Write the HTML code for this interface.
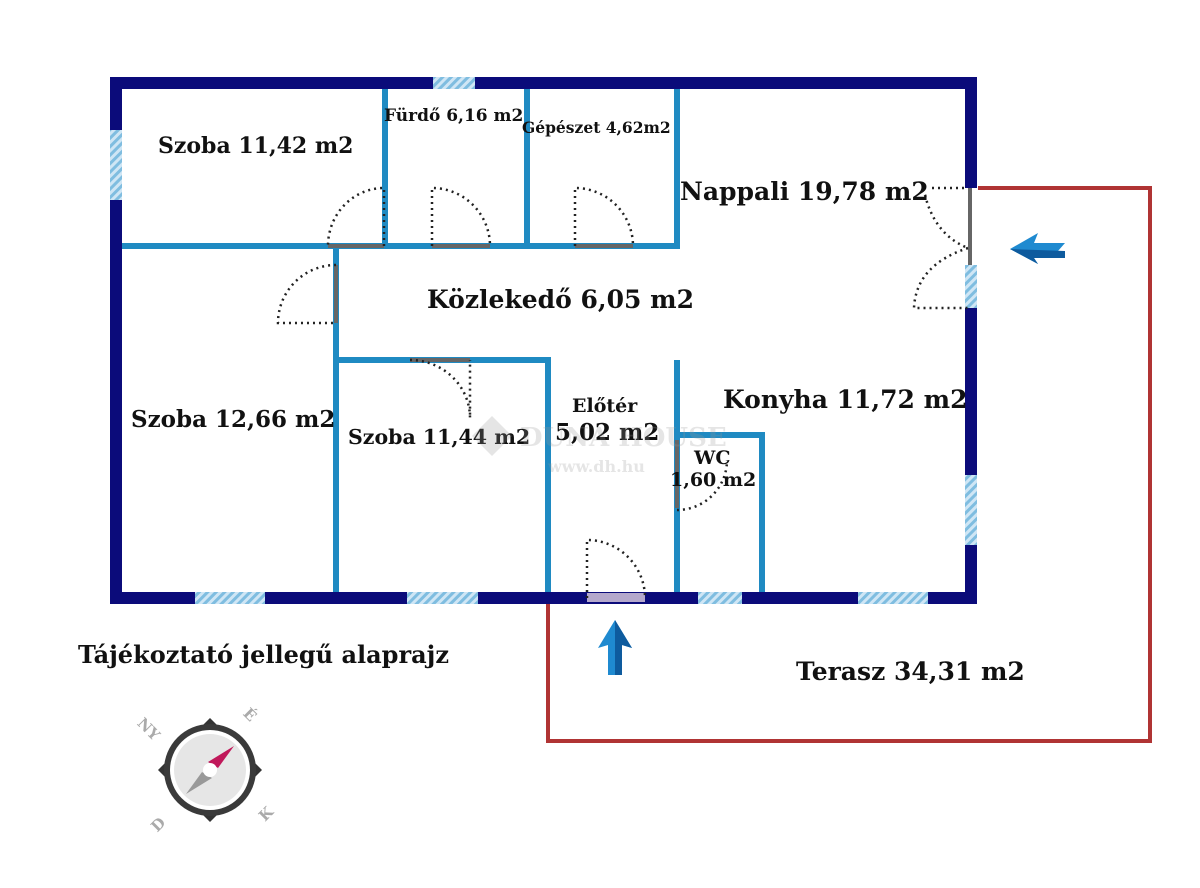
<!DOCTYPE html>
<html><head><meta charset="utf-8"><style>
body{margin:0;background:#fff}
svg{display:block}
text{font-family:"DejaVu Serif","Liberation Serif",serif;font-weight:bold;fill:#111}
</style></head><body>
<svg width="1200" height="888" viewBox="0 0 1200 888" xmlns="http://www.w3.org/2000/svg">
<defs>
<pattern id="h" width="6" height="6" patternUnits="userSpaceOnUse" patternTransform="rotate(45)">
<rect width="6" height="6" fill="#cfe6f5"/><rect width="3" height="6" fill="#7fbde0"/></pattern>
</defs>
<g fill="none" stroke="#b03434" stroke-width="4">
<polyline points="978,188 1150,188 1150,741 548,741 548,604"/>
</g>
<g stroke="#1f8ac2" stroke-width="6" fill="none">
<line x1="120" y1="246" x2="680" y2="246"/>
<line x1="385" y1="88" x2="385" y2="246"/>
<line x1="527" y1="88" x2="527" y2="246"/>
<line x1="677" y1="88" x2="677" y2="249"/>
<line x1="336" y1="246" x2="336" y2="598"/>
<line x1="336" y1="360" x2="551" y2="360"/>
<line x1="548" y1="360" x2="548" y2="598"/>
<line x1="677" y1="360" x2="677" y2="598"/>
<line x1="677" y1="435" x2="765" y2="435"/>
<line x1="762" y1="435" x2="762" y2="598"/>
</g>
<g stroke="#666" stroke-width="4">
<line x1="328" y1="246" x2="384" y2="246"/><line x1="432" y1="246" x2="490" y2="246"/><line x1="575" y1="246" x2="633" y2="246"/>
<line x1="336" y1="265" x2="336" y2="323"/><line x1="410" y1="360" x2="470" y2="360"/><line x1="677" y1="440" x2="677" y2="508"/>
<line x1="970" y1="188" x2="970" y2="265"/>
</g>
<g stroke="#0b0b7a" stroke-width="12" fill="none">
<polyline points="971,188 971,83 116,83 116,598 971,598 971,545"/>
<line x1="971" y1="265" x2="971" y2="475"/>
</g>
<g fill="url(#h)">
<rect x="433" y="77" width="42" height="12"/>
<rect x="110" y="130" width="12" height="70"/>
<rect x="965" y="265" width="12" height="43"/>
<rect x="965" y="475" width="12" height="70"/>
<rect x="195" y="592" width="70" height="12"/>
<rect x="407" y="592" width="71" height="12"/>
<rect x="698" y="592" width="44" height="12"/>
<rect x="858" y="592" width="70" height="12"/>
</g>
<rect x="587" y="593" width="58" height="9" fill="#b4a8cc"/>
<g fill="none" stroke="#222" stroke-width="2.5" stroke-dasharray="2,4">
<path d="M384,246 V188 A56,58 0 0 0 328,246"/>
<path d="M432,246 V188 A58,58 0 0 1 490,246"/>
<path d="M575,246 V188 A58,58 0 0 1 633,246"/>
<path d="M336,265 A58,58 0 0 0 278,323 H336"/>
<path d="M410,360 A60,58 0 0 1 470,418 V360"/>
<path d="M587,598 V540 A58,58 0 0 1 645,598"/>
<path d="M677,510 A50,50 0 0 0 727,460"/>
<path d="M932,188 H968 M925,195 Q935,235 968,248 M968,248 Q916,265 914,308 H968"/>
</g>
<text x="158" y="153" font-size="22">Szoba 11,42 m2</text>
<text x="384" y="121" font-size="17" font-weight="normal">Fürdő 6,16 m2</text>
<text x="522" y="133" font-size="15.5">Gépészet 4,62m2</text>
<text x="680" y="200" font-size="25">Nappali 19,78 m2</text>
<text x="427" y="308" font-size="25">Közlekedő 6,05 m2</text>
<text x="131" y="427" font-size="23">Szoba 12,66 m2</text>
<text x="348" y="444" font-size="20.5">Szoba 11,44 m2</text>
<text x="572" y="412" font-size="19">Előtér</text>
<text x="555" y="440" font-size="23">5,02 m2</text>
<text x="723" y="408" font-size="25">Konyha 11,72 m2</text>
<text x="694" y="464" font-size="19">WC</text>
<text x="670" y="486" font-size="19">1,60 m2</text>
<text x="796" y="680" font-size="25">Terasz 34,31 m2</text>
<text x="78" y="663" font-size="24">Tájékoztató jellegű alaprajz</text>
<g opacity="0.25">
<path d="M472,436 L492,416 L512,436 L492,456Z" fill="#999"/>
<text x="520" y="446" font-size="26" font-weight="normal" style="fill:#999">DUNA HOUSE</text>
<text x="548" y="472" font-size="16" style="fill:#999">www.dh.hu</text>
</g>
<path d="M1010,249 L1038,233 L1034,243 L1065,243 L1058,251 L1065,258 L1034,258 L1038,264Z" fill="#1f8ad0"/>
<path d="M1010,249 L1065,251 L1065,258 L1034,258 L1038,264Z" fill="#0e5b9e"/>
<path d="M615,620 L632,648 L622,645 L622,675 L608,675 L608,645 L598,648Z" fill="#1f8ad0"/>
<path d="M615,620 L615,675 L622,675 L622,645 L632,648Z" fill="#0e5b9e"/>
<g transform="translate(210,770)">
<g fill="#333"><path d="M-52,0 L-40,-12 L-40,12Z"/><path d="M52,0 L40,-12 L40,12Z"/><path d="M0,-52 L-12,-40 L12,-40Z"/><path d="M0,52 L-12,40 L12,40Z"/></g>
<circle r="46" fill="#3a3a3a"/><circle r="40" fill="#fff"/><circle r="36" fill="#e6e6e6"/>
<path d="M24,-24 L8,-2 L-2,-8Z" fill="#c0185a"/>
<path d="M-24,24 L-8,2 L2,8Z" fill="#999"/>
<circle r="7" fill="#fff"/>
<g font-family="Liberation Sans,sans-serif" font-size="15">
<text x="-72" y="-42" transform="rotate(45 -68 -46)" style="fill:#aaa">NY</text>
<text x="34" y="-50" transform="rotate(45 40 -55)" style="fill:#aaa">É</text>
<text x="50" y="50" transform="rotate(-45 55 45)" style="fill:#aaa">K</text>
<text x="-58" y="60" transform="rotate(-45 -52 55)" style="fill:#aaa">D</text>
</g>
</g>
</svg>
</body></html>
